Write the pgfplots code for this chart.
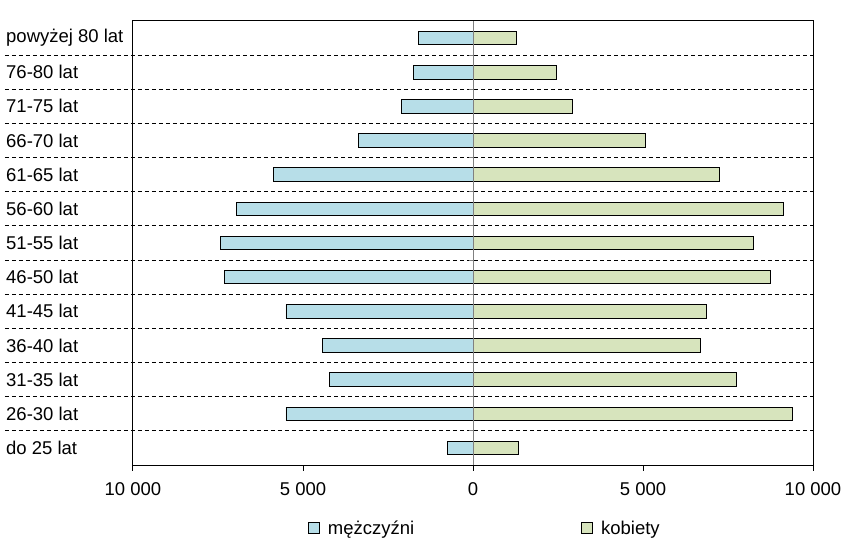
\documentclass[border=0pt]{standalone}
\usepackage{pgfplots}
\pgfplotsset{compat=1.18}
\usepackage{fontspec}
\setmainfont{Liberation Sans}
\definecolor{menc}{HTML}{B7DEE8}
\definecolor{womc}{HTML}{D7E4BD}
\begin{document}
\begin{tikzpicture}[font=\fontsize{18.5bp}{22bp}\selectfont]
\begin{axis}[
  width=680bp, height=444bp, scale only axis,
  xmin=-10000, xmax=10000, ymin=-0.5, ymax=12.5,
  scaled x ticks=false,
  xbar, bar width=13.5bp, bar shift=0pt,
  clip=false,
  axis line style={black, line width=1bp},
  xtick={-10000,-5000,0,5000,10000},
  xticklabels={10 000,5 000,0,5 000,10 000},
  xtick align=outside, xtick pos=bottom,
  major tick length=6bp,
  x tick style={black, line width=1bp},
  ytick={0,...,12},
  yticklabels={do 25 lat,26-30 lat,31-35 lat,36-40 lat,41-45 lat,46-50 lat,51-55 lat,56-60 lat,61-65 lat,66-70 lat,71-75 lat,76-80 lat,powyżej 80 lat},
  y tick style={draw=none},
  yticklabel style={anchor=west, inner sep=0pt, xshift=-121bp},
  xticklabel style={yshift=-8bp},
  legend columns=2,
  legend style={draw=none, fill=none, at={(0.5176,-0.142)}, anchor=center,
    /tikz/every odd column/.append style={column sep=6bp},
    /tikz/every even column/.append style={column sep=165bp}},
  legend image code/.code={\draw[#1, line width=0.8bp] (0bp,-5.5bp) rectangle (11bp,5.5bp);},
]
\pgfplotsinvokeforeach{0.5,1.5,2.5,3.5,4.5,5.5,6.5,7.5,8.5,9.5,10.5,11.5}{
  \draw[black, line width=0.9bp, dash pattern=on 4bp off 3bp] ([xshift=-128bp]axis cs:-10000,#1) -- (axis cs:10000,#1);
  \draw[gray, line width=0.9bp] (axis cs:0,#1) -- ([xshift=-4bp]axis cs:0,#1);
}
\addplot[fill=menc, draw=black, line width=0.9bp] coordinates {
(-740,0) (-5500,1) (-4210,2) (-4440,3) (-5500,4) (-7320,5) (-7440,6) (-6960,7) (-5870,8) (-3380,9) (-2090,10) (-1760,11) (-1590,12)};
\addlegendentry{mężczyźni}
\addplot[fill=womc, draw=black, line width=0.9bp] coordinates {
(1350,0) (9390,1) (7740,2) (6680,3) (6880,4) (8760,5) (8260,6) (9120,7) (7260,8) (5060,9) (2920,10) (2450,11) (1280,12)};
\addlegendentry{kobiety}
\draw[gray, line width=1bp] (axis cs:0,-0.5) -- (axis cs:0,12.5);
\end{axis}
\pgfresetboundingbox
\path ([xshift=-133bp,yshift=-79bp]current axis.south west) rectangle ([xshift=39bp,yshift=21bp]current axis.north east);
\end{tikzpicture}
\end{document}
